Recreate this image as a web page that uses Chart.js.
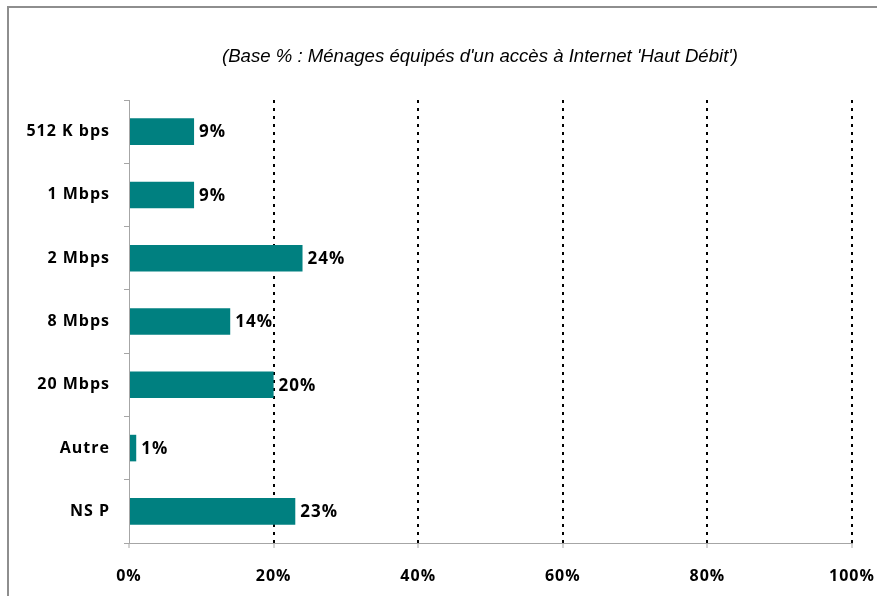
<!DOCTYPE html>
<html>
<head>
<meta charset="utf-8">
<script src="https://cdn.jsdelivr.net/npm/chart.js@4"></script>
<style>
    html, body { margin: 0; padding: 0; background: #fff; }
    #wrap { position: relative; width: 877px; height: 596px; overflow: hidden; }
    #frame {
        position: absolute; left: 7px; top: 6px; width: 900px; height: 700px;
        border-left: 2px solid #8e8e8e; border-top: 2px solid #8e8e8e;
    }
    canvas { position: absolute; left: 0; top: 0; }
</style>
</head>
<body>
<div id="wrap">
    <div id="frame"></div>
    <canvas id="chart" width="877" height="596"></canvas>
</div>
<script>
// Données
const categories = ['512 K bps', '1 Mbps', '2 Mbps', '8 Mbps', '20 Mbps', 'Autre', 'NS P'];
const values = [9, 9, 24, 14, 20, 1, 23];
const xTicks = [0, 20, 40, 60, 80, 100];
const subtitle = "(Base % : Ménages équipés d'un accès à Internet 'Haut Débit')";

const barColor = '#008080';
const labelFont = { family: "'Open Sans', 'DejaVu Sans', sans-serif", size: 16, weight: 'bold' };

// Espacement des lettres (rendu Excel)
const letterSpacing = {
    id: 'letterSpacing',
    beforeLayout(chart) { chart.ctx.letterSpacing = '1px'; },
    beforeDraw(chart) { chart.ctx.letterSpacing = '1px'; }
};

// Étiquettes de valeur à droite des barres + sous-titre
const valueLabels = {
    id: 'valueLabels',
    afterDatasetsDraw(chart) {
        const ctx = chart.ctx;
        const meta = chart.getDatasetMeta(0);
        ctx.save();
        ctx.letterSpacing = '1px';
        ctx.font = 'bold 17px "Open Sans", "DejaVu Sans", sans-serif';
        ctx.fillStyle = '#000';
        ctx.textBaseline = 'middle';
        ctx.textAlign = 'left';
        meta.data.forEach((bar, i) => {
            ctx.fillText(values[i] + '%', bar.x + 5, bar.y + 1);
        });

        ctx.letterSpacing = '0px';
        ctx.font = 'italic 18.6px "Liberation Sans", Arial, sans-serif';
        ctx.textAlign = 'center';
        ctx.fillText(subtitle, 480, 57);
        ctx.restore();
    }
};

new Chart(document.getElementById('chart').getContext('2d'), {
    type: 'bar',
    data: {
        labels: categories,
        datasets: [{
            data: values,
            backgroundColor: barColor,
            borderWidth: 0,
            barPercentage: 0.42,
            categoryPercentage: 1
        }]
    },
    options: {
        indexAxis: 'y',
        responsive: false,
        animation: false,
        layout: { padding: { top: 100, right: 25, bottom: 0, left: 0 } },
        scales: {
            x: {
                min: 0,
                max: 100,
                afterBuildTicks(scale) {
                    scale.ticks = xTicks.map(v => ({ value: v }));
                },
                afterFit(scale) {
                    scale.height = 53;
                    scale.paddingLeft = 0;
                    scale.paddingRight = 0;
                },
                grid: {
                    color: ctx => (ctx.tick && ctx.tick.value === 0) ? 'rgba(0,0,0,0)' : '#000',
                    lineWidth: 2,
                    tickColor: '#a6a6a6',
                    tickWidth: 1,
                    tickLength: 5
                },
                border: { color: '#a6a6a6', width: 1, dash: [3, 5] },
                ticks: {
                    color: '#000',
                    font: labelFont,
                    padding: 19,
                    callback: v => v + '%'
                }
            },
            y: {
                afterFit(scale) { scale.width = 129; },
                grid: {
                    offset: true,
                    drawOnChartArea: false,
                    color: '#a6a6a6',
                    tickLength: 5
                },
                border: { color: '#a6a6a6', width: 1 },
                ticks: {
                    color: '#000',
                    font: labelFont,
                    padding: 14
                }
            }
        },
        plugins: {
            legend: { display: false },
            tooltip: { enabled: false }
        }
    },
    plugins: [letterSpacing, valueLabels]
});
</script>
</body>
</html>
